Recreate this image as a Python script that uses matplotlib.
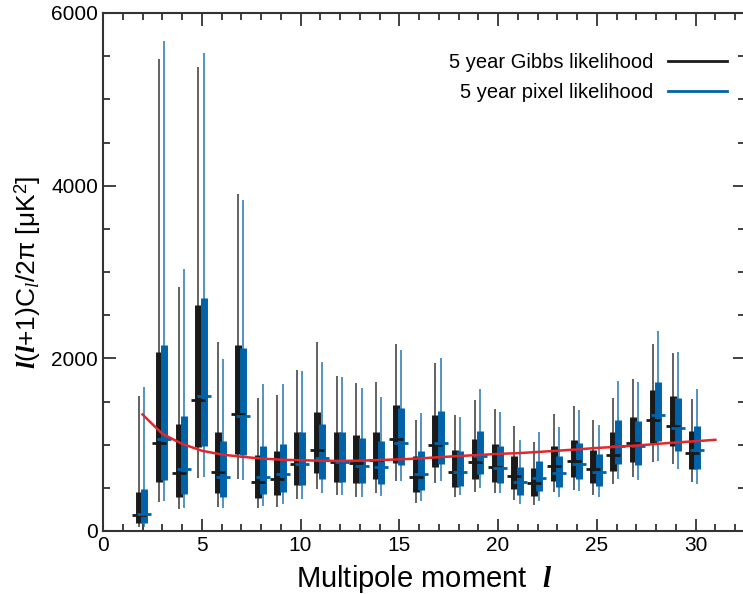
import matplotlib
matplotlib.use('Agg')
import matplotlib.pyplot as plt
import numpy as np
from matplotlib.ticker import MultipleLocator

plt.rcParams['font.family'] = ['Liberation Sans', 'DejaVu Sans']
plt.rcParams['mathtext.fontset'] = 'custom'
plt.rcParams['mathtext.rm'] = 'Liberation Sans'
plt.rcParams['mathtext.it'] = 'Liberation Serif:italic'
plt.rcParams['mathtext.bf'] = 'Liberation Sans:bold'
plt.rcParams['mathtext.bfit'] = 'Liberation Serif:bold:italic'

ell = np.arange(2, 31)

# 5 year Gibbs likelihood: peak, 68% range, 95% range
gibbs_peak = [190, 1021, 677, 1512, 685, 1350, 572, 607, 777, 944, 801, 785, 820, 1060, 623,
              994, 689, 797, 746, 642, 553, 758, 812, 716, 886, 1025, 1280, 1222, 909]
gibbs_lo68 = [96, 572, 398, 971, 437, 893, 387, 414, 538, 677, 572, 561, 603, 785, 456,
              743, 514, 603, 572, 483, 410, 580, 630, 553, 696, 805, 1018, 979, 723]
gibbs_hi68 = [452, 2077, 1242, 2623, 1141, 2155, 886, 932, 1145, 1381, 1149, 1114, 1149, 1462, 870,
              1346, 940, 1068, 1002, 863, 735, 986, 1056, 940, 1141, 1315, 1633, 1559, 1160]
gibbs_lo95 = [50, 340, 252, 611, 282, 603, 263, 282, 375, 483, 414, 398, 445, 580, 329,
              561, 391, 456, 437, 360, 306, 449, 476, 418, 541, 630, 801, 774, 569]
gibbs_hi95 = [1566, 5466, 2828, 5373, 2193, 3899, 1540, 1578, 1868, 2193, 1795, 1714, 1721, 2166, 1288,
              1946, 1346, 1516, 1408, 1219, 1029, 1354, 1451, 1288, 1540, 1760, 2166, 2062, 1532]

# 5 year pixel likelihood
pixel_peak = [201, 1060, 723, 1559, 627, 1327, 630, 661, 777, 851, 801, 758, 743, 1025, 661,
              1025, 689, 870, 735, 565, 611, 669, 781, 681, 990, 990, 1338, 1191, 940]
pixel_lo68 = [96, 592, 429, 979, 398, 886, 433, 453, 538, 603, 572, 553, 545, 762, 476,
              774, 522, 665, 561, 422, 460, 514, 599, 522, 777, 766, 1044, 928, 723]
pixel_hi68 = [484, 2155, 1335, 2700, 1041, 2116, 983, 1010, 1141, 1238, 1149, 1079, 1041, 1419, 921,
              1393, 928, 1160, 979, 746, 816, 874, 1021, 897, 1288, 1277, 1729, 1543, 1222]
pixel_lo95 = [50, 352, 263, 630, 263, 592, 290, 313, 375, 437, 414, 398, 406, 576, 348,
              584, 422, 503, 437, 313, 344, 391, 460, 395, 599, 592, 812, 716, 549]
pixel_hi95 = [1667, 5671, 3029, 5536, 1992, 3830, 1702, 1702, 1857, 1957, 1783, 1656, 1555, 2093, 1369,
              2004, 1323, 1644, 1373, 1052, 1149, 1199, 1404, 1230, 1741, 1729, 2313, 2074, 1648]

# best-fit model
model_ell = np.arange(2, 32)
model_cl = [1350, 1126, 1010, 930, 886, 860, 840, 826, 820, 814, 812, 815, 822, 830, 840,
            855, 868, 880, 893, 902, 915, 930, 945, 962, 975, 990, 1008, 1025, 1040, 1056]

black = '#1a1a1a'
blue = '#0062a8'
red = '#e3262b'

fig = plt.figure(figsize=(7.43, 5.94), dpi=100)
ax = fig.add_axes([103 / 743, 63 / 594, 642 / 743, 518 / 594])


def draw_set(x, peak, lo68, hi68, lo95, hi95, color):
    ax.vlines(x, lo95, hi95, color=color, lw=1.2, alpha=0.8, zorder=2)
    ax.vlines(x, lo68, hi68, color=color, lw=5.0, zorder=3)
    ax.plot(x, peak, ls='none', marker='_', ms=10, mew=2.0, color=color, zorder=4)


draw_set(ell - 0.17, gibbs_peak, gibbs_lo68, gibbs_hi68, gibbs_lo95, gibbs_hi95, black)
draw_set(ell + 0.09, pixel_peak, pixel_lo68, pixel_hi68, pixel_lo95, pixel_hi95, blue)
ax.plot(model_ell, model_cl, color=red, lw=1.8, zorder=5)

# legend
h1, = ax.plot([], [], color=black, lw=2)
h2, = ax.plot([], [], color=blue, lw=2)
ax.legend([h1, h2], ['5 year Gibbs likelihood', '5 year pixel likelihood'],
          loc='upper right', bbox_to_anchor=(1.0, 0.958), frameon=False,
          markerfirst=False, handlelength=2.9, handletextpad=0.75,
          labelspacing=0.55, prop={'size': 14.5})

ax.set_xlim(0, 32.5)
ax.set_ylim(0, 6000)
ax.xaxis.set_major_locator(MultipleLocator(5))
ax.xaxis.set_minor_locator(MultipleLocator(1))
ax.yaxis.set_major_locator(MultipleLocator(2000))
ax.yaxis.set_minor_locator(MultipleLocator(500))
ax.tick_params(which='both', direction='in', top=True, right=True, color='#333333',
               width=1.3, labelsize=15)
ax.tick_params(which='major', length=9)
ax.tick_params(which='minor', length=5)
for s in ax.spines.values():
    s.set_linewidth(1.5)
    s.set_color('#333333')

ax.set_xlabel(r'Multipole moment  $\mathbfit{l}$', fontsize=21, labelpad=6)
ax.set_ylabel(r'$\mathbfit{l}$($\mathbfit{l}$+1)C$_{\mathit{l}}$/2π [μK$^2$]', fontsize=19, labelpad=6)

fig.savefig('out.png', dpi=100)
